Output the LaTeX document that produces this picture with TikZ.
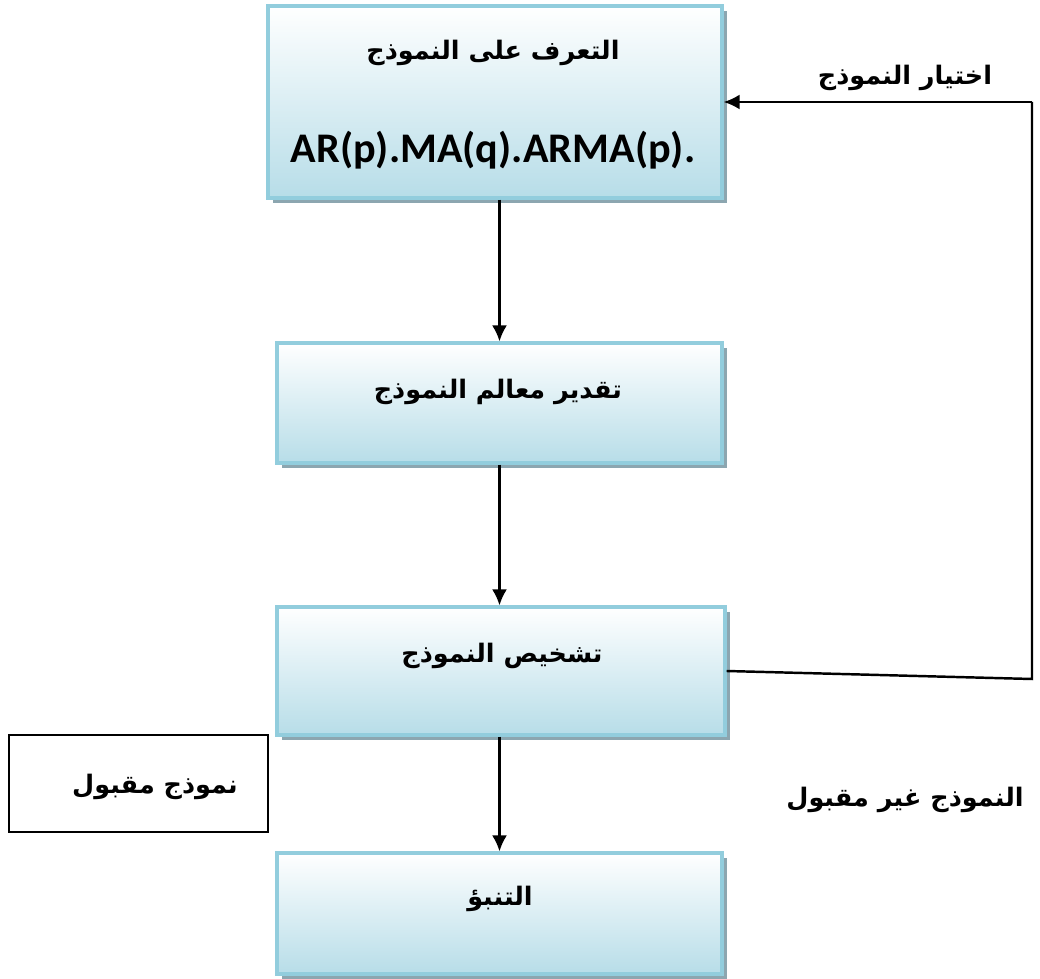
\documentclass[tikz,border=0pt]{standalone}
\usepackage{fontspec}
\usepackage{tikz}
\usetikzlibrary{shadows, arrows.meta}
\TeXXeTstate=1
\newfontfamily\arabicfont[Script=Arabic]{DejaVu Sans}
\newfontfamily\latinfont{Carlito}
\definecolor{boxblue}{RGB}{183,221,232}
\definecolor{boxedge}{RGB}{146,205,221}
\definecolor{boxshade}{RGB}{140,166,176}

\begin{document}
\begin{tikzpicture}[stepbox/.style = {draw=boxedge, line width=1.8pt, top color=white, bottom color=boxblue,
                        drop shadow={shadow xshift=0.1cm, shadow yshift=-0.1cm, fill=boxshade, opacity=1}},
                    ar/.style = {font=\arabicfont\bfseries\fontsize{14.5}{17}\selectfont},
                    arr/.style = {line width=1.4pt, -{Latex[length=0.32cm, width=0.3cm]}}]
                \useasboundingbox (0,0) rectangle (20.8,-19.58);

                \node[stepbox, minimum width=9.08cm, minimum height=3.84cm] at (9.9, -2.04) (B1) {};
                \node[stepbox, minimum width=8.9cm, minimum height=2.4cm] at (9.99, -8.06) (B2) {};
                \node[stepbox, minimum width=8.96cm, minimum height=2.56cm] at (10.02, -13.42) (B3) {};
                \node[stepbox, minimum width=8.9cm, minimum height=2.42cm] at (9.99, -18.27) (B4) {};
                \node[draw, line width=1.3pt, minimum width=5.18cm, minimum height=1.94cm] at (2.77, -15.67) (OK) {};

                \node[ar] at (9.86, -1.06) (T1) {\beginR التعرف على النموذج\endR};
                \node[font=\latinfont\bfseries\fontsize{24}{28}\selectfont] at (9.86, -3.0) (M1) {AR(p).MA(q).ARMA(p).};
                \node[ar] at (9.96, -7.84) (T2) {\beginR تقدير معالم النموذج\endR};
                \node[ar] at (10.04, -13.12) (T3) {\beginR تشخيص النموذج\endR};
                \node[ar] at (10.0, -17.98) (T4) {\beginR التنبؤ\endR};
                \node[ar] at (3.1, -15.74) (T5) {\beginR نموذج مقبول\endR};
                \node[ar] at (18.1, -1.55) (L1) {\beginR اختيار النموذج\endR};
                \node[ar] at (18.1, -16.0) (L2) {\beginR النموذج غير مقبول\endR};

                \coordinate (R1) at (20.64, -13.58);
                \coordinate (R2) at (20.64, -2.04);

                \draw [arr] (B1.south -| B2.north) -- (B2.north);
                \draw [arr] (B2.south) -- (B3.north -| B2.south);
                \draw [arr] (B3.south -| B2.south) -- (B4.north);
                \draw [line width=1.4pt] (B3.east) -- (R1) -- (R2);
                \draw [arr] (R2) -- (B1.east);
\end{tikzpicture}
\end{document}
